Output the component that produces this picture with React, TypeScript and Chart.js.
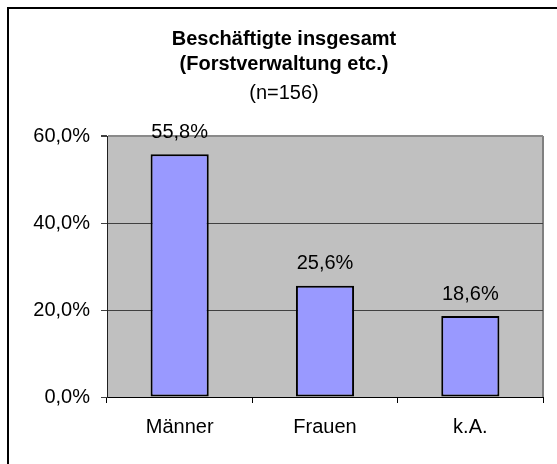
import React, { useEffect, useRef } from "react";
import { Chart, registerables } from "chart.js";

Chart.register(...registerables);

const categories = ["Männer", "Frauen", "k.A."];
const values = [55.8, 25.6, 18.6];
const yTicks = [0, 20, 40, 60];
const titleLines = ["Beschäftigte insgesamt", "(Forstverwaltung etc.)"];
const subtitleText = "(n=156)";

const FONT = "'Liberation Sans', Arial, sans-serif";

const fmt = (v: number) => v.toFixed(1).replace(".", ",") + "%";

const decorPlugin = {
  id: "decor",
  beforeDraw(chart: any) {
    const { ctx, chartArea } = chart;
    ctx.save();
    ctx.fillStyle = "#ffffff";
    ctx.fillRect(0, 0, chart.width, chart.height);
    // frame (top + left)
    ctx.fillStyle = "#000000";
    ctx.fillRect(7, 7, chart.width - 7, 2);
    ctx.fillRect(7, 7, 2, chart.height - 7);
    // plot background
    ctx.fillStyle = "#c0c0c0";
    ctx.fillRect(chartArea.left, chartArea.top, chartArea.right - chartArea.left, chartArea.bottom - chartArea.top);
    // right border
    ctx.strokeStyle = "#808080";
    ctx.lineWidth = 2;
    ctx.beginPath();
    ctx.moveTo(chartArea.right, chartArea.top);
    ctx.lineTo(chartArea.right, chartArea.bottom);
    ctx.stroke();
    // titles
    ctx.fillStyle = "#000000";
    ctx.textAlign = "center";
    ctx.textBaseline = "alphabetic";
    ctx.font = `bold 20px ${FONT}`;
    ctx.fillText(titleLines[0], 284, 45);
    ctx.fillText(titleLines[1], 284, 70);
    ctx.font = `20px ${FONT}`;
    ctx.fillText(subtitleText, 284, 98.5);
    ctx.restore();
  },
  afterDatasetsDraw(chart: any) {
    const { ctx } = chart;
    const meta = chart.getDatasetMeta(0);
    ctx.save();
    ctx.fillStyle = "#000000";
    ctx.font = `20px ${FONT}`;
    ctx.textAlign = "center";
    ctx.textBaseline = "alphabetic";
    meta.data.forEach((bar: any, i: number) => {
      ctx.fillText(fmt(values[i]), bar.x, bar.y - 16.5);
    });
    ctx.restore();
  },
};

export default function App() {
  const ref = useRef<HTMLCanvasElement | null>(null);

  useEffect(() => {
    document.body.style.margin = "0";
    const canvas = ref.current!;
    const chart = new Chart(canvas, {
      type: "bar",
      data: {
        labels: categories,
        datasets: [
          {
            data: values,
            backgroundColor: "#9999ff",
            borderColor: "#000000",
            borderWidth: 2,
            borderSkipped: false,
            barPercentage: 0.4,
            categoryPercentage: 1,
          },
        ],
      },
      options: {
        animation: false,
        responsive: false,
        devicePixelRatio: 1,
        layout: { padding: { top: 136, right: 14, bottom: 0, left: 0 } },
        plugins: {
          legend: { display: false },
          title: { display: false },
          tooltip: { enabled: false },
        },
        scales: {
          x: {
            afterFit: (s: any) => {
              s.height = 67;
            },
            grid: {
              offset: true,
              drawOnChartArea: false,
              tickLength: 6,
              tickColor: "#000000",
              lineWidth: 1,
            },
            border: { color: "#000000", width: 1 },
            ticks: {
              color: "#000000",
              padding: 12,
              font: { family: FONT, size: 20 },
            },
          },
          y: {
            min: 0,
            max: 60,
            afterFit: (s: any) => {
              s.width = 107;
            },
            afterBuildTicks: (s: any) => {
              s.ticks = yTicks.map((v) => ({ value: v }));
            },
            grid: {
              tickLength: 6,
              color: (c: any) => (c.tick && c.tick.value === 60 ? "#8a8a8a" : "#404040"),
              tickColor: "#404040",
              lineWidth: (c: any) => (c.tick && c.tick.value === 60 ? 2 : 1),
            },
            border: { color: "#202020", width: 1 },
            ticks: {
              color: "#000000",
              padding: 11,
              font: { family: FONT, size: 20 },
              callback: (v: any) => fmt(Number(v)),
            },
          },
        },
      },
      plugins: [decorPlugin],
    });
    return () => chart.destroy();
  }, []);

  return (
    <div style={{ position: "fixed", left: 0, top: 0, width: 557, height: 464 }}>
      <canvas ref={ref} width={557} height={464} style={{ display: "block" }} />
    </div>
  );
}
